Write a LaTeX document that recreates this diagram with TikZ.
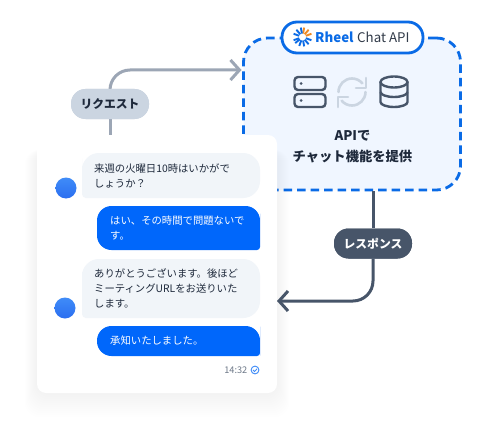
\documentclass[tikz,border=0pt]{standalone}
\usepackage{fontspec}
\setmainfont{Noto Sans CJK JP}
\usetikzlibrary{arrows.meta,calc}
\definecolor{brandblue}{HTML}{0A6BE6}
\definecolor{bubbleblue}{HTML}{0067FB}
\definecolor{panelfill}{HTML}{F0F6FF}
\definecolor{bubblegrey}{HTML}{F1F5F9}
\definecolor{reqgrey}{HTML}{9CA6B5}
\definecolor{reqfill}{HTML}{CBD5E1}
\definecolor{slate}{HTML}{475569}
\definecolor{inkc}{HTML}{1E293B}
\definecolor{orangeray}{HTML}{F08A24}
\definecolor{avatarA}{HTML}{3F8CF8}
\definecolor{avatarB}{HTML}{2B6EF0}
\tikzset{
  x=1pt,y=-1pt,
  panelbox/.style={draw=brandblue,line width=2.8pt,dash pattern=on 8.5pt off 5pt,fill=panelfill,rounded corners=24pt,minimum width=217pt,minimum height=152pt,inner sep=0pt},
  titlepill/.style={draw=brandblue,line width=2.8pt,fill=white,rounded corners=15pt,minimum width=141pt,minimum height=31pt,inner sep=0pt},
  cardbox/.style={fill=white,rounded corners=9pt,minimum width=240pt,minimum height=258pt,inner sep=0pt},
  labelpill/.style={rounded corners=14.5pt,minimum width=78pt,minimum height=30pt,inner sep=0pt,font=\fontsize{11.8}{14}\selectfont\bfseries},
  flow/.style={line width=3pt,rounded corners=20pt,-{Straight Barb[length=9pt,width=20pt,line width=3pt]}},
  icon/.style={draw=slate,line width=2.4pt,rounded corners=3.5pt},
  msg/.style={anchor=west,align=left,inner sep=0pt,font=\fontsize{10.35}{15}\selectfont},
  avatarc/.style={circle,minimum size=21pt,inner sep=0pt,top color=avatarA,bottom color=avatarB},
  ray/.style={line width=1.9pt},
}
\newcommand{\chatbubble}[6]{%
  \fill[#5,rounded corners=14.5pt] (#1,#2) -- (#3,#2) -- (#3,{(#2+#4)/2}) [rounded corners=#6pt] -- (#3,#4) [rounded corners=14.5pt] -- (#1,#4) -- cycle;}
\newcommand{\chatbubbleL}[5]{%
  \fill[#5,rounded corners=17pt] (#1,{(#2+#4)/2}) -- (#1,#2) -- (#3,#2) -- (#3,#4) [rounded corners=4pt] -- (#1,#4) [rounded corners=17pt] -- cycle;}
\begin{document}
\begin{tikzpicture}
\useasboundingbox (0,0) rectangle (500,433);
\fill[white] (0,0) rectangle (500,433);
% panel
\node[panelbox] (panel) at (352,114) {};
% shadow
\foreach \g in {24,22,20,18,16,14,12,10,8,6,4,2}{
  \fill[black,opacity=.0055,rounded corners=14pt] (37-\g*.5,150) rectangle (277+\g*.5,393+\g);
}
% connectors
\node[cardbox] (card) at (157,264) {};
\node[titlepill] (title) at (352.5,37.5) {};
\node[labelpill,fill=reqfill,text=inkc] (req) at (110,104) {リクエスト};
\node[labelpill,fill=slate,text=white] (res) at (373,243.5) {レスポンス};
\coordinate (reqstart) at (card.north -| req.center);
\coordinate (reqend) at (241.5,70);
\coordinate (resstart) at (panel.south -| res.center);
\coordinate (resend) at (277,301);
\draw[reqgrey,line width=3pt] (reqstart) -- (req.south);
\draw[flow,reqgrey] (req.north) -- (req.north |- reqend) -- (reqend);
\draw[slate,line width=3pt] (resstart) -- (res.north);
\draw[flow,slate] (res.south) -- (res.south |- resend) -- (resend);
% pills over lines
\node[labelpill,fill=reqfill,text=inkc] at (req.center) {リクエスト};
\node[labelpill,fill=slate,text=white] at (res.center) {レスポンス};
% logo
\foreach \a/\c in {-20/orangeray,-50/orangeray,-80/orangeray,20/brandblue,50/brandblue,80/brandblue,110/brandblue,140/brandblue,160/brandblue,-160/brandblue,-130/brandblue,-100/brandblue}{
  \draw[ray,\c] (302.5,37) ++(\a:3.5) -- ++(\a:6);
}
\node[anchor=west,inner sep=0pt,text=brandblue,font=\fontsize{13.3}{16}\selectfont\bfseries] (rheel) at (315,37) {Rheel};
\node[anchor=west,inner sep=0pt,text=slate!70!black,font=\fontsize{13.3}{16}\selectfont] (chat) at (357,37) {Chat API};
% server icon
\draw[icon] (294.5,77) rectangle (325.5,90);
\draw[icon] (294.5,94) rectangle (325.5,107);
\fill[slate] (301,83.5) circle (1.5);
\fill[slate] (301,100.5) circle (1.5);
% sync icon
\begin{scope}[draw=reqfill,line width=2.6pt,line cap=round,line join=round]
\draw (352,92) ++(180:13.5) arc[start angle=180,end angle=320,radius=13.5];
\draw (352,92) ++(0:13.5) arc[start angle=0,end angle=140,radius=13.5];
\draw (366,78) -- (366,88) -- (356,88);
\draw (338,107) -- (338,97) -- (348,97);
\end{scope}
% database icon
\begin{scope}[draw=slate,line width=2.4pt]
\draw (380.5,82) -- (380.5,102) arc[start angle=180,end angle=0,x radius=13.5,y radius=5] -- (407.5,82);
\draw (394,82) ellipse (13.5 and 5.5);
\draw (380.5,92) arc[start angle=180,end angle=0,x radius=13.5,y radius=5];
\end{scope}
% panel text
\node[inner sep=0pt,text=inkc,font=\fontsize{13.3}{21}\selectfont\bfseries,align=center] (ptext) at (352.5,147) {APIで\\チャット機能を提供};
% bubbles
\chatbubbleL{82}{153}{260}{198}{bubblegrey}
\node[msg,text=inkc] (m1) at (94,176) {来週の火曜日10時はいかがで\\しょうか？};
\chatbubble{97}{206}{260}{250}{bubbleblue}{3}
\node[msg,text=white] (m2) at (110,228) {はい、その時間で問題ないで\\す。};
\chatbubbleL{82}{259}{260}{318}{bubblegrey}
\node[msg,text=inkc] (m3) at (94,288) {ありがとうございます。後ほど\\ミーティングURLをお送りいた\\します。};
\chatbubble{97}{326}{260}{356}{bubbleblue}{3}
\node[msg,text=white] (m4) at (110,341) {承知いたしました。};
\node[avatarc] (av1) at (66,188) {};
\node[avatarc] (av2) at (65,308) {};
\node[anchor=east,inner sep=0pt,text=slate!80,font=\fontsize{9.2}{11}\selectfont] (time) at (247.5,370) {14:32};
\draw[avatarA,line width=.9pt] (255,370) circle (3.9);
\draw[avatarA,line width=.9pt] (253,370) -- (254.6,371.5) -- (257,368.8);
\end{tikzpicture}
\end{document}
